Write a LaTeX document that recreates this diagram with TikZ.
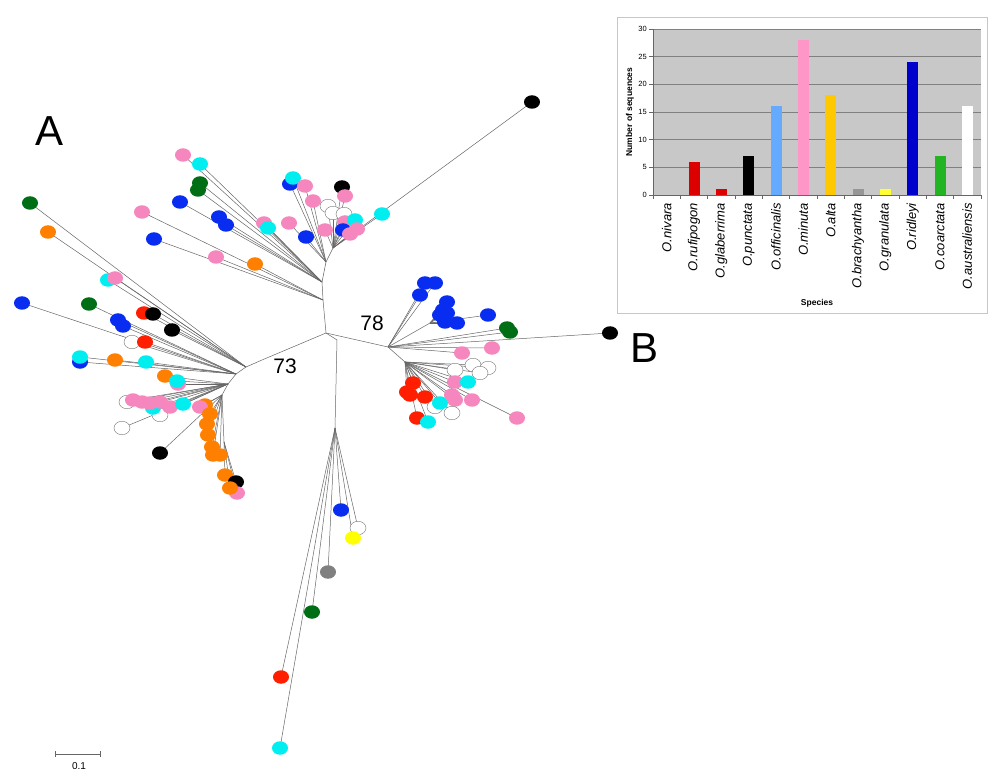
\documentclass[tikz,border=0pt]{standalone}
\usepackage{fontspec}
\setmainfont{Liberation Sans}
\usetikzlibrary{shapes.geometric}
\definecolor{cB}{RGB}{8,45,240}
\definecolor{cP}{RGB}{245,135,190}
\definecolor{cC}{RGB}{0,238,240}
\definecolor{cG}{RGB}{0,110,20}
\definecolor{cO}{RGB}{255,128,0}
\definecolor{cR}{RGB}{255,30,0}
\definecolor{cGr}{RGB}{128,128,128}
\definecolor{cY}{RGB}{255,255,0}
\definecolor{cPlot}{RGB}{200,200,200}
\definecolor{bRed}{RGB}{220,0,0}
\definecolor{bBlue}{RGB}{100,170,255}
\definecolor{bPink}{RGB}{255,150,200}
\definecolor{bGold}{RGB}{255,200,0}
\definecolor{bGray}{RGB}{150,150,150}
\definecolor{bYel}{RGB}{255,255,50}
\definecolor{bNavy}{RGB}{0,0,205}
\definecolor{bGreen}{RGB}{35,180,35}
\begin{document}
\begin{tikzpicture}[x=1pt,y=-1pt,
  br/.style={draw=black!60,line width=0.5pt},
  dot/.style={ellipse,minimum width=16pt,minimum height=13.5pt,inner sep=0pt,draw=none},
  dB/.style={fill=cB}, dP/.style={fill=cP}, dC/.style={fill=cC}, dG/.style={fill=cG},
  dO/.style={fill=cO}, dR/.style={fill=cR}, dK/.style={fill=black}, dGr/.style={fill=cGr},
  dY/.style={fill=cY}, dW/.style={fill=white,draw=black!55,line width=0.4pt},
  big/.style={font=\fontsize{42}{42}\selectfont},
  mid/.style={font=\fontsize{21}{21}\selectfont},
]
\useasboundingbox (0,0) rectangle (998,775);
% skeleton
\coordinate (C) at (326,333);
\coordinate (L1) at (262,360);
\coordinate (La) at (246,367);
\coordinate (Lb) at (236,374);
\coordinate (Lc) at (228,384);
\coordinate (Ld) at (222,395);
\coordinate (Le) at (224,442);
\coordinate (U1) at (323,300);
\coordinate (U2) at (322,282);
\coordinate (U3) at (326,262);
\coordinate (U4) at (333,248);
\coordinate (R0) at (388,347);
\coordinate (Rb) at (430,323);
\coordinate (Rl) at (405,362);
\coordinate (D0) at (337,340);
\coordinate (D1) at (335,428);
\draw[br] (C) -- (L1) -- (La) -- (Lb) -- (Lc) -- (Ld) -- (Le);
\draw[br] (C) -- (U1) -- (U2) -- (U3) -- (U4);
\draw[br] (C) -- (R0) -- (Rb);
\draw[br] (R0) -- (Rl);
\draw[br] (C) -- (D0) -- (D1);
\def\leaves{U2/183/155/dP, U2/200/164/dC, U2/200/183/dG, U2/198/190/dG, U2/180/202/dB, U2/219/217/dB, U2/226/225/dB, U2/264/223/dP, U2/268/228/dC,
U1/142/212/dP, U1/154/239/dB, U1/216/257/dP, U1/255/264/dO,
U3/290/184/dB, U3/293/178/dC, U3/305/186/dP, U3/313/201/dP, U3/289/223/dP, U3/306/237/dB,
U4/328/206/dW, U4/333/213/dW, U4/344/214/dW, U4/342/187/dK, U4/345/196/dP, U4/325/230/dP, U4/345/222/dP, U4/343/230/dB, U4/355/220/dC, U4/357/229/dP, U4/350/234/dP, U4/382/214/dC, U4/532/102/dK,
La/30/203/dG, La/48/232/dO, La/108/280/dC, La/115/278/dP, La/144/313/dR, La/153/314/dK, La/172/330/dK,
Lb/22/303/dB, Lb/89/304/dG, Lb/118/320/dB, Lb/123/326/dB, Lb/132/342/dW, Lb/145/342/dR, Lb/80/362/dB, Lb/80/357/dC, Lb/115/360/dO, Lb/146/362/dC,
Lc/165/376/dO, Lc/178/384/dP, Lc/177/381/dC, Lc/127/402/dW, Lc/122/428/dW, Lc/160/415/dW, Lc/153/408/dC, Lc/170/407/dP, Lc/133/400/dP, Lc/142/402/dP, Lc/150/403/dP, Lc/160/402/dP, Lc/183/404/dC,
Ld/160/453/dK, Ld/205/405/dO, Ld/200/407/dP, Ld/210/414/dO, Ld/207/424/dO, Ld/208/435/dO, Ld/212/447/dO, Ld/213/455/dO, Ld/220/455/dO,
Le/225/475/dO, Le/236/482/dK, Le/237/493/dP, Le/230/488/dO,
R0/425/283/dB, R0/435/283/dB, R0/420/295/dB, R0/507/328/dG, R0/510/332/dG, R0/610/333/dK, R0/492/348/dP, R0/462/353/dP,
Rb/447/302/dB, Rb/443/310/dB, Rb/440/315/dB, Rb/447/313/dB, Rb/445/322/dB, Rb/457/323/dB, Rb/488/315/dB,
Rl/455/370/dW, Rl/473/365/dW, Rl/488/368/dW, Rl/480/373/dW, Rl/455/382/dP, Rl/468/382/dC, Rl/413/383/dR, Rl/407/392/dR, Rl/410/395/dR, Rl/425/397/dR, Rl/435/407/dW, Rl/440/403/dC, Rl/452/395/dP, Rl/455/400/dP, Rl/472/400/dP, Rl/452/413/dW, Rl/417/418/dR, Rl/428/422/dC, Rl/517/418/dP,
D1/341/510/dB, D1/358/528/dW, D1/353/538/dY, D1/328/572/dGr, D1/312/612/dG, D1/281/677/dR, D1/280/748/dC}
\foreach \h/\x/\y/\s [count=\i] in \leaves {
  \coordinate (p\i) at (\x,\y);
  \draw[br] (\h) -- (p\i);
}
\foreach \h/\x/\y/\s [count=\i] in \leaves {
  \node[dot,\s] (n\i) at (p\i) {};
}
\node[big] (lA) at (50,131) {A};
\node[big] (lB) at (644,348) {B};
\node[mid] (l73) at (285,366) {73};
\node[mid] (l78) at (372,323) {78};
% scale bar
\coordinate (s1) at (55,754);
\coordinate (s2) at (100,754);
\draw[black!60,line width=0.5pt] (s1) -- (s2);
\draw[black!60,line width=0.5pt] ([yshift=-3pt]s1) -- ([yshift=3pt]s1);
\draw[black!60,line width=0.5pt] ([yshift=-3pt]s2) -- ([yshift=3pt]s2);
\node[font=\fontsize{10}{10}\selectfont] (sl) at (79,766) {0.1};
% bar chart
\draw[black!22,line width=0.8pt] (617,17) rectangle (987,313);
\fill[cPlot] (653,29) rectangle (981,195);
\foreach \v in {5,10,...,30} {
  \draw[black!50,line width=0.4pt] (653,{195-5.5333*\v}) -- (981,{195-5.5333*\v});
}
\foreach \v in {0,5,...,30} {
  \draw[black!60,line width=0.4pt] (649,{195-5.5333*\v}) -- (653,{195-5.5333*\v});
  \node[anchor=east,font=\fontsize{7.5}{8}\selectfont,inner sep=1pt] at (648,{195-5.5333*\v}) {\v};
}
\draw[black!60,line width=0.5pt] (653,29) -- (653,195) -- (981,195);
\foreach \k in {0,...,12} {
  \draw[black!60,line width=0.4pt] ({653+27.333*\k},195) -- ({653+27.333*\k},199);
}
\foreach \k/\v/\c in {1/6/bRed,2/1/bRed,3/7/black,4/16/bBlue,5/28/bPink,6/18/bGold,7/1/bGray,8/1/bYel,9/24/bNavy,10/7/bGreen,11/16/white} {
  \fill[\c] ({653+27.333*(\k+0.5)-5.5},195) rectangle ({653+27.333*(\k+0.5)+5.5},{195-5.5333*\v});
}
\foreach \k/\t in {0/nivara,1/rufipogon,2/glaberrima,3/punctata,4/officinalis,5/minuta,6/alta,7/brachyantha,8/granulata,9/ridleyi,10/coarctata,11/australiensis} {
  \node[rotate=90,anchor=east,inner sep=0pt,font=\itshape\fontsize{13}{13}\selectfont] at ({653+27.333*(\k+0.5)},203) {O.\t};
}
\node[rotate=90,font=\bfseries\fontsize{8.5}{9}\selectfont] (yt) at (630,112) {Number of sequences};
\node[font=\bfseries\fontsize{8.5}{9}\selectfont] (xt) at (817,303) {Species};
\end{tikzpicture}
\end{document}
